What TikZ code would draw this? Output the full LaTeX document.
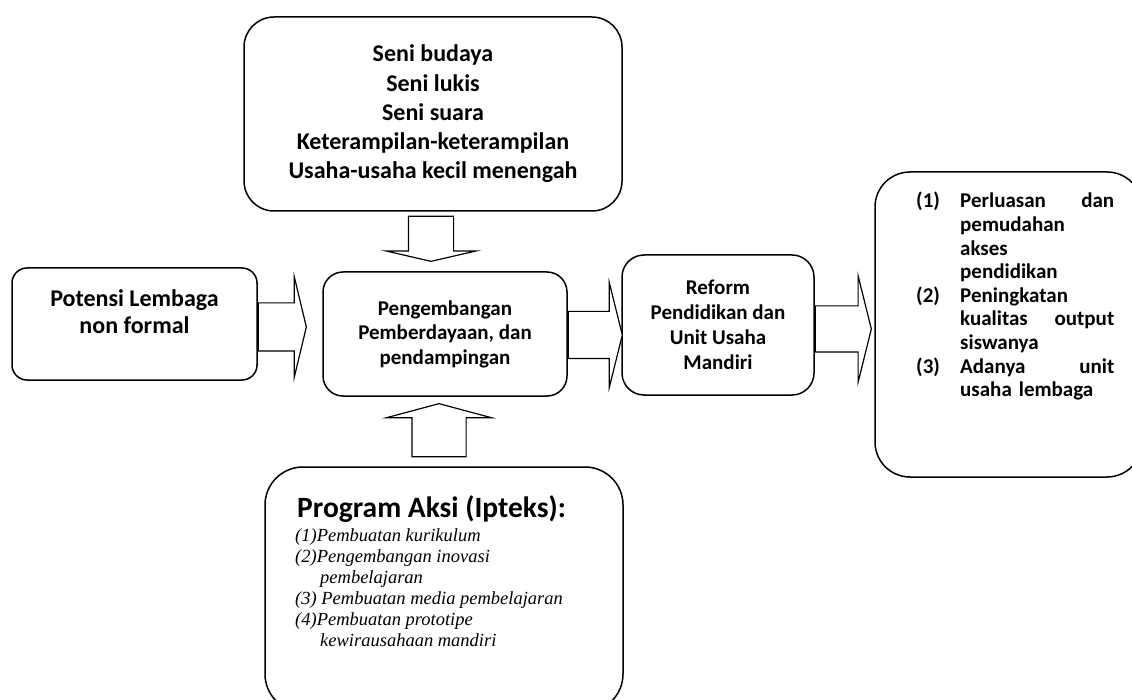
\documentclass[tikz,border=0pt]{standalone}
\usepackage{fontspec}
\setmainfont{Carlito}
\newfontfamily\timesfont{Liberation Serif}
\usetikzlibrary{shapes.arrows,positioning}

\begin{document}
\begin{tikzpicture}
		[x=1pt,y=-1pt,
		kotak/.style={draw,line width=1.5pt,rounded corners=#1,inner sep=0pt},
		kotak/.default=20pt,
		teks/.style={inner sep=0pt,align=center,font=\bfseries},
		panah/.style={draw,line width=1.2pt,fill=white,single arrow,inner xsep=0pt,inner ysep=0pt,text depth=0pt}]
		\useasboundingbox (0,0) rectangle (1132,700);
		\clip (0,0) rectangle (1132,700);
		\node[kotak=30pt,minimum width=378pt,minimum height=194pt,teks,font=\bfseries\fontsize{24}{29.3}\selectfont] (seni) at (433,114)
			{Seni budaya\\Seni lukis\\Seni suara\\Keterampilan-keterampilan\\Usaha-usaha kecil menengah};
		\node[kotak=15pt,minimum width=245pt,minimum height=112pt] (lembaga) at (134.5,324) {};
		\node[teks,font=\bfseries\fontsize{24}{27}\selectfont,anchor=base] (lembagateks) at (134.5,334)
			{Potensi Lembaga\\non formal};
		\node[kotak=20pt,minimum width=244pt,minimum height=124pt,teks,font=\bfseries\fontsize{21}{24.5}\selectfont] (pengembangan) at (445,334)
			{Pengembangan\\Pemberdayaan, dan\\pendampingan};
		\node[kotak=22pt,minimum width=192pt,minimum height=140pt,teks,font=\bfseries\fontsize{21}{25}\selectfont] (reform) at (718,325)
			{Reform\\Pendidikan dan\\Unit Usaha\\Mandiri};
		\node[kotak=35pt,minimum width=267pt,minimum height=305pt] (hasil) at (1008.5,324.5) {};
		\node[inner sep=0pt,text width=198pt,align=left,anchor=base west,font=\bfseries\fontsize{21}{23.6}\selectfont] (hasilteks) at (916,208)
			{\makebox[44pt][l]{(1)}Perluasan\hfill dan\\
			\hspace*{44pt}pemudahan\\
			\hspace*{44pt}akses\\
			\hspace*{44pt}pendidikan\\
			\makebox[44pt][l]{(2)}Peningkatan\\
			\hspace*{44pt}kualitas\hfill output\\
			\hspace*{44pt}siswanya\\
			\makebox[44pt][l]{(3)}Adanya\hfill unit\\
			\hspace*{44pt}usaha lembaga};
		\node[kotak=38pt,minimum width=358pt,minimum height=245pt] (program) at (444,589.5) {};
		\node[inner sep=0pt,anchor=base west,font=\bfseries\fontsize{29.5}{34}\selectfont] (programjudul) at (297,517)
			{Program Aksi (Ipteks):};
		\node[inner sep=0pt,align=left,anchor=base west,font=\timesfont\itshape\fontsize{18.5}{20.9}\selectfont] (programteks) at (295,646)
			{(1)Pembuatan kurikulum\\
			(2)Pengembangan inovasi\\
			\hspace*{25pt}pembelajaran\\
			(3) Pembuatan media pembelajaran\\
			(4)Pembuatan prototipe\\
			\hspace*{25pt}kewirausahaan mandiri};
		\node[panah,text height=44pt,single arrow head extend=22pt,single arrow tip angle=154,minimum height=45pt,rotate=-90,anchor=tail] (a1) at ([xshift=-2pt,yshift=-4pt]seni.south) {};
		\node[panah,text height=47pt,single arrow head extend=26.5pt,single arrow tip angle=153,minimum height=48pt,anchor=tail] (a2) at ([yshift=-3pt]lembaga.east) {};
		\node[panah,text height=46pt,single arrow head extend=29pt,single arrow tip angle=152,minimum height=54pt,anchor=tail] (a3) at ([yshift=-1pt]pengembangan.east) {};
		\node[panah,text height=45pt,single arrow head extend=30pt,single arrow tip angle=152,minimum height=56pt,anchor=tail] (a4) at ([yshift=-4pt]reform.east) {};
		\node[panah,text height=53pt,single arrow head extend=25.5pt,single arrow tip angle=150,minimum height=53pt,rotate=90,anchor=tail] (a5) at ([xshift=-5pt,yshift=9pt]program.north) {};
	\end{tikzpicture}
\end{document}
